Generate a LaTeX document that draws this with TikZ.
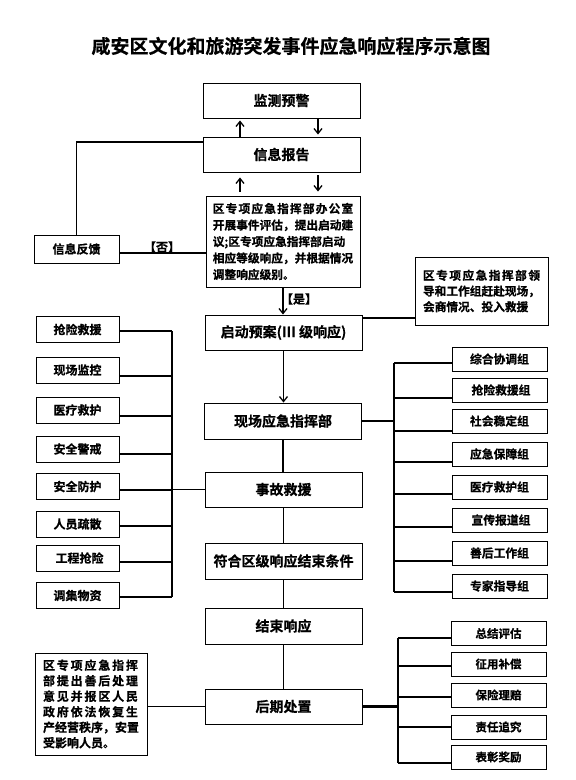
\documentclass[tikz,border=0pt]{standalone}
\usepackage{fontspec}
\setmainfont{Noto Sans CJK SC}[BoldFont={Noto Sans CJK SC Bold},BoldFeatures={FakeBold=0.6}]
\usetikzlibrary{arrows.meta}
\newcommand{\fs}[2]{\fontsize{#1}{#2}\selectfont}
\begin{document}
\begin{tikzpicture}[x=1pt,y=-1pt,
  box/.style={draw, line width=0.9pt, inner sep=0pt, font=\bfseries\fs{14}{16}},
  mainbox/.style={box, minimum width=157pt, minimum height=35pt},
  leftbox/.style={box, minimum width=83pt, minimum height=26pt, font=\bfseries\fs{12}{14}},
  rightbox/.style={box, minimum width=95pt, minimum height=24pt, font=\bfseries\fs{11.8}{14}},
  textbox/.style={box, font=\bfseries\fs{11.7}{16.5}, align=left},
  conn/.style={line width=1.3pt},
  thk/.style={line width=2.4pt},
  arr/.style={line width=1.3pt, -{Straight Barb[length=5pt,width=8pt]}},
  lbl/.style={font=\bfseries\fs{12}{14}, inner sep=0pt}
]
\useasboundingbox (0,0) rectangle (576,780);
\fill[white] (0,0) rectangle (576,780);

\node[font=\bfseries\fs{19}{22}] (title) at (291,46) {咸安区文化和旅游突发事件应急响应程序示意图};

% main column
\node[mainbox] (mon)  at (281.5,100.5) {监测预警};
\node[mainbox] (rep)  at (281.5,154.5) {信息报告};
\node[textbox, minimum width=154pt, minimum height=91pt] (eval) at (283,241.5)
  {\makebox[140.4pt][s]{区\hfil 专\hfil 项\hfil 应\hfil 急\hfil 指\hfil 挥\hfil 部\hfil 办\hfil 公\hfil 室}\\
   开展事件评估，提出启动建\\
   议;区专项应急指挥部启动\\
   相应等级响应，并根据情况\\
   调整响应级别。};
\node[mainbox] (plan) at (283.5,332.5) {启动预案(III 级响应)};
\node[mainbox, minimum height=36pt] (cmd)  at (283,421) {现场应急指挥部};
\node[mainbox] (resc) at (283.5,489.5) {事故救援};
\node[mainbox, minimum height=36pt] (cond) at (283.5,561) {符合区级响应结束条件};
\node[mainbox, minimum height=36pt] (endr) at (283.5,626) {结束响应};
\node[mainbox] (post) at (283.5,706.5) {后期处置};

\node[box, minimum width=85pt, minimum height=28pt, font=\bfseries\fs{12}{14}] (fb) at (76.5,249) {信息反馈};
\node[textbox, minimum width=133pt, minimum height=68pt, font=\bfseries\fs{11.7}{15.7}] (lead) at (481.5,291)
  {\makebox[117pt][s]{区\hfil 专\hfil 项\hfil 应\hfil 急\hfil 指\hfil 挥\hfil 部\hfil 领}\\
   导和工作组赶赴现场，\\
   会商情况、投入救援};
\node[textbox, minimum width=112pt, minimum height=102pt, font=\bfseries\fs{12}{15.5}] (tb) at (91,704)
  {\makebox[95pt][s]{区\hfil 专\hfil 项\hfil 应\hfil 急\hfil 指\hfil 挥}\\
   \makebox[95pt][s]{部\hfil 提\hfil 出\hfil 善\hfil 后\hfil 处\hfil 理}\\
   \makebox[95pt][s]{意\hfil 见\hfil 并\hfil 报\hfil 区\hfil 人\hfil 民}\\
   \makebox[95pt][s]{政\hfil 府\hfil 依\hfil 法\hfil 恢\hfil 复\hfil 生}\\
   产经营秩序，安置\\
   受影响人员。};

% left list
\node[leftbox] (l1) at (77.5,329.5) {抢险救援};
\node[leftbox] (l2) at (77.5,370) {现场监控};
\node[leftbox] (l3) at (77.5,410) {医疗救护};
\node[leftbox] (l4) at (77.5,449) {安全警戒};
\node[leftbox] (l5) at (77.5,486.5) {安全防护};
\node[leftbox] (l6) at (77.5,524) {人员疏散};
\node[leftbox] (l7) at (77.5,558) {\hspace{4pt}工程抢险};
\node[leftbox] (l8) at (77.5,595.5) {调集物资};

% right list
\node[rightbox] (r1) at (499.5,359) {综合协调组};
\node[rightbox] (r2) at (499.5,390) {\hspace{3pt}抢险救援组};
\node[rightbox] (r3) at (499.5,421) {社会稳定组};
\node[rightbox] (r4) at (499.5,454) {应急保障组};
\node[rightbox] (r5) at (499.5,487) {医疗救护组};
\node[rightbox] (r6) at (499.5,520) {\hspace{3pt}宣传报道组};
\node[rightbox] (r7) at (499.5,553) {善后工作组};
\node[rightbox] (r8) at (499.5,586) {专家指导组};

% bottom right list
\node[rightbox, font=\bfseries\fs{11.5}{14}] (b1) at (498.5,633.5) {总结评估};
\node[rightbox, font=\bfseries\fs{11.5}{14}] (b2) at (498.5,664) {征用补偿};
\node[rightbox, font=\bfseries\fs{11.5}{14}] (b3) at (498.5,695) {保险理赔};
\node[rightbox, font=\bfseries\fs{11.5}{14}] (b4) at (498.5,727) {责任追究};
\node[rightbox, font=\bfseries\fs{11.5}{14}] (b5) at (498.5,757) {表彰奖励};

% helper coordinates
\coordinate (xl) at (240,0);
\coordinate (xr) at (318,0);
\coordinate (lt) at (172,0);
\coordinate (rt) at (394,0);
\coordinate (bt) at (398,0);

% arrows top
\draw[arr] (rep.north -| xl) -- ([yshift=-2pt]mon.south -| xl);
\draw[arr] (mon.south -| xr) -- ([yshift=2pt]rep.north -| xr);
\draw[arr] ([yshift=4pt]eval.north -| xl) -- ([yshift=-5pt]rep.south -| xl);
\draw[arr] ([yshift=-3pt]rep.south -| xr) -- ([yshift=4pt]eval.north -| xr);

% feedback loop
\draw[conn] ([yshift=12.5pt]rep.west) -| (fb.north);
\draw[conn] ([yshift=-4pt]fb.east) -- ([yshift=-4pt]fb.east -| eval.west);
\node[lbl] (no) at (162,247) {【否】};

% yes arrow
\draw[arr] (eval.south) -- (eval.south |- plan.north);
\node[lbl] (yes) at (299,299) {【是】};

% plan to lead
\draw[conn] ([yshift=14.5pt]plan.east) -- ([yshift=14.5pt]plan.east -| lead.west);

% main chain
\draw[arr] (plan.south) -- (plan.south |- cmd.north);
\draw[conn] (cmd.south) -- (cmd.south |- resc.north);
\draw[conn] (resc.south) -- (resc.south |- cond.north);
\draw[conn] (cond.south) -- (cond.south |- endr.north);
\draw[conn] (endr.south) -- (endr.south |- post.north);

% left bracket
\draw[thk] ([yshift=-1.5pt]l1.east) -- ([yshift=-1.5pt]l1.east -| lt);
\draw[conn] ([yshift=-6pt]l2.east) -- ([yshift=-6pt]l2.east -| lt);
\draw[thk] ([yshift=-6pt]l3.east) -- ([yshift=-6pt]l3.east -| lt);
\draw[conn] ([yshift=-5pt]l4.east) -- ([yshift=-5pt]l4.east -| lt);
\draw[thk] ([yshift=-3.5pt]l5.east) -- ([yshift=-3.5pt]l5.east -| lt);
\draw[thk] ([yshift=-2pt]l6.east) -- ([yshift=-2pt]l6.east -| lt);
\draw[conn] ([yshift=-4pt]l7.east) -- ([yshift=-4pt]l7.east -| lt);
\draw[conn] ([yshift=-1.5pt]l8.east) -- ([yshift=-1.5pt]l8.east -| lt);
\draw[conn] ([yshift=-1.5pt]l1.east -| lt) -- ([yshift=-1.5pt]l8.east -| lt);
\draw[conn] (resc.west) -- (resc.west -| lt);

% right bracket
\draw[thk] ([yshift=-4pt]r1.west) -- ([yshift=-4pt]r1.west -| rt);
\draw[conn] ([yshift=-8pt]r2.west) -- ([yshift=-8pt]r2.west -| rt);
\draw[thk] ([yshift=-10pt]r3.west) -- ([yshift=-10pt]r3.west -| rt);
\draw[thk] ([yshift=-8pt]r4.west) -- ([yshift=-8pt]r4.west -| rt);
\draw[thk] ([yshift=-7pt]r5.west) -- ([yshift=-7pt]r5.west -| rt);
\draw[thk] ([yshift=-7pt]r6.west) -- ([yshift=-7pt]r6.west -| rt);
\draw[conn] ([yshift=-8pt]r7.west) -- ([yshift=-8pt]r7.west -| rt);
\draw[conn] ([yshift=-6pt]r8.west) -- ([yshift=-6pt]r8.west -| rt);
\draw[conn] ([yshift=-4pt]r1.west -| rt) -- ([yshift=-6pt]r8.west -| rt);
\draw[conn] (cmd.east) -- (cmd.east -| rt);

% bottom
\draw[conn] (tb.east |- post.west) -- (post.west);
\draw[thk] (post.east) -- (post.east -| bt);
\draw[conn] ([yshift=-4.5pt]b1.west) -- ([yshift=-4.5pt]b1.west -| bt);
\draw[thk] ([yshift=-2pt]b2.west) -- ([yshift=-2pt]b2.west -| bt);
\draw[conn] ([yshift=-2pt]b3.west) -- ([yshift=-2pt]b3.west -| bt);
\draw[conn] (b4.west) -- (b4.west -| bt);
\draw[conn] ([yshift=-6pt]b5.west) -- ([yshift=-6pt]b5.west -| bt);
\draw[line width=1.8pt] ([yshift=-4.5pt]b1.west -| bt) -- ([yshift=-6pt]b5.west -| bt);
\end{tikzpicture}
\end{document}
